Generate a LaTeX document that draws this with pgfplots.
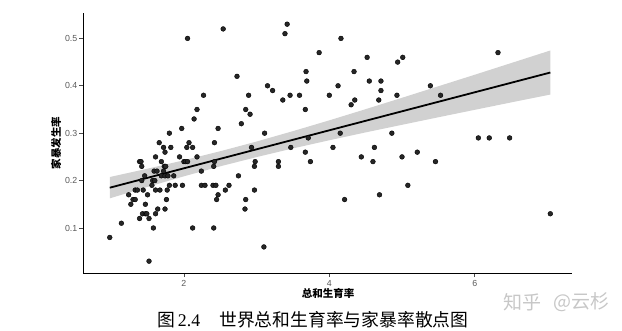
\documentclass[border=0pt]{standalone}
\usepackage{pgfplots}
\pgfplotsset{compat=1.18}
\usepackage{fontspec}
\setmainfont{Liberation Sans}
\newfontfamily\cjk{Noto Sans CJK SC}
\newfontfamily\serifnum{Liberation Serif}

\pgfplotstableread{
x y
2.05 0.50
2.54 0.52
3.42 0.53
3.39 0.51
3.86 0.47
2.73 0.42
3.68 0.43
3.69 0.41
3.15 0.40
3.22 0.39
2.27 0.38
2.89 0.38
3.46 0.38
3.59 0.38
3.36 0.37
2.18 0.35
2.85 0.35
3.67 0.35
2.91 0.34
2.14 0.33
2.79 0.32
1.97 0.31
2.47 0.31
1.80 0.30
3.11 0.30
1.66 0.28
2.07 0.28
2.42 0.28
1.72 0.27
1.82 0.27
2.04 0.27
2.12 0.27
2.93 0.27
3.47 0.27
3.71 0.29
4.16 0.50
4.52 0.46
5.01 0.46
4.94 0.45
6.32 0.47
4.34 0.43
4.55 0.41
4.71 0.41
4.12 0.40
5.39 0.40
4.00 0.38
4.71 0.39
4.93 0.38
5.53 0.38
4.35 0.37
4.68 0.37
4.30 0.36
4.15 0.30
4.86 0.30
6.05 0.29
6.20 0.29
6.48 0.29
4.05 0.27
4.62 0.27
3.67 0.26
3.74 0.24
4.44 0.25
4.60 0.24
5.00 0.25
5.21 0.26
5.46 0.24
5.08 0.19
4.69 0.17
4.21 0.16
7.04 0.13
1.74 0.26
1.61 0.25
1.94 0.25
2.18 0.25
1.39 0.24
1.41 0.24
1.42 0.23
1.69 0.24
2.00 0.24
2.02 0.24
2.05 0.24
1.73 0.23
1.75 0.23
1.59 0.22
1.63 0.22
1.72 0.22
1.46 0.21
1.69 0.21
1.74 0.21
1.78 0.21
1.86 0.21
2.24 0.22
1.42 0.20
1.57 0.20
1.60 0.20
1.56 0.19
1.80 0.19
1.88 0.19
1.98 0.19
2.24 0.19
2.29 0.19
2.40 0.19
2.44 0.19
2.62 0.19
1.33 0.18
1.36 0.18
1.44 0.18
1.61 0.18
1.67 0.18
1.77 0.18
2.57 0.18
2.97 0.18
1.24 0.17
1.50 0.17
2.47 0.17
1.76 0.16
1.30 0.16
1.33 0.16
2.45 0.16
2.85 0.16
1.27 0.15
1.47 0.15
1.64 0.14
1.74 0.14
2.84 0.14
1.43 0.13
1.47 0.13
1.49 0.13
1.61 0.13
1.14 0.11
1.39 0.12
1.52 0.12
1.58 0.10
2.12 0.10
2.41 0.10
0.98 0.08
1.52 0.03
3.10 0.06
2.41 0.23
2.42 0.24
2.98 0.24
2.97 0.23
3.30 0.24
3.30 0.23
2.75 0.21
}\pts

\begin{document}
\begin{tikzpicture}[x=1pt,y=1pt]
\path[use as bounding box] (0,0) rectangle (622,330);
\begin{axis}[
  at={(83pt,57pt)}, anchor=south west, scale only axis,
  width=489pt, height=260pt,
  xmin=0.612, xmax=7.338, ymin=0.005, ymax=0.5536,
  axis lines=left, axis line style={-, black, line width=0.6pt},
  xtick={2,4,6}, ytick={0.1,0.2,0.3,0.4,0.5},
  tick align=outside, major tick length=4pt,
  tick style={black!70, line width=0.6pt},
  ticklabel style={font=\fontsize{8.8}{10}\selectfont, text=black!65},
  yticklabel style={inner sep=1.5pt},
  /pgf/number format/assume math mode=true,
  yticklabel style={/pgf/number format/.cd, fixed, precision=1, fixed zerofill},
  clip=false,
]
\addplot[only marks, mark=*, mark size=2.4pt, mark options={draw=none, fill=black!85}] table[x=x,y=y] {\pts};
\addplot[draw=none, fill=black!40, fill opacity=0.45] coordinates {
 (0.98,0.2075) (1.5,0.2251) (2.0,0.2428) (2.5,0.2619) (3.0,0.2824) (3.5,0.3043) (4.0,0.3271) (4.5,0.3507) (5.0,0.3747) (5.5,0.3990) (6.0,0.4233) (6.5,0.4479) (7.04,0.4745)
 (7.04,0.3815) (6.5,0.3649) (6.0,0.3493) (5.5,0.3336) (5.0,0.3177) (4.5,0.3017) (4.0,0.2851) (3.5,0.2679) (3.0,0.2496) (2.5,0.2301) (2.0,0.2090) (1.5,0.1867) (0.98,0.1625)
} -- cycle;
\addplot[black, line width=1.8pt] coordinates {(0.98,0.185) (7.04,0.428)};
\end{axis}
\node[font=\cjk\bfseries\fontsize{10.5}{12}\selectfont] at (328,36.3) {总和生育率};
\node[font=\cjk\bfseries\fontsize{10.5}{12}\selectfont, rotate=90] at (56,187) {家暴发生率};
\node[anchor=west, inner sep=0pt, font=\fontsize{17.8}{20}\selectfont] at (157,10.3) {{\cjk 图}\,{\serifnum 2.4}};
\node[anchor=west, inner sep=0pt, font=\cjk\fontsize{17.8}{20}\selectfont] at (219,10.3) {世界总和生育率与家暴率散点图};
\node[anchor=west, inner sep=0pt, text=black!22, font=\cjk\fontsize{19}{20}\selectfont] at (503,28) {知乎};
\node[anchor=west, inner sep=0pt, text=black!22, font=\cjk\fontsize{19}{20}\selectfont] at (553,28) {@云杉};
\end{tikzpicture}
\end{document}
